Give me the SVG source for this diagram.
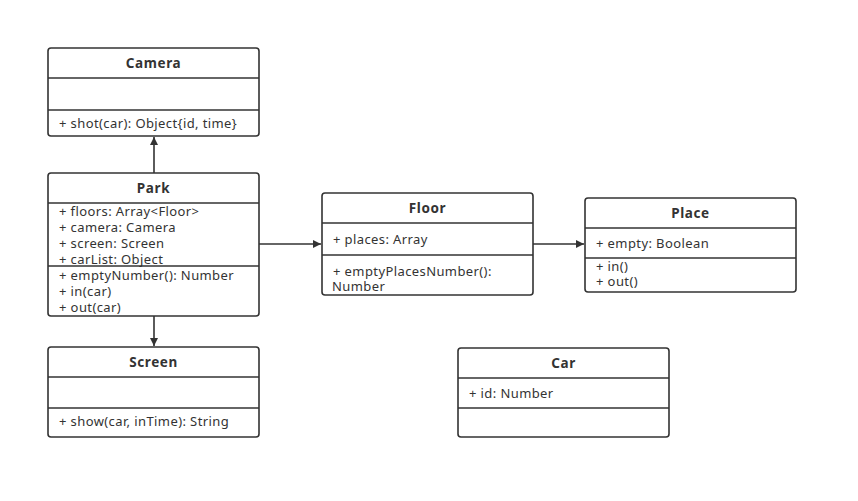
<svg xmlns="http://www.w3.org/2000/svg" width="858" height="501" viewBox="0 0 858 501">
<defs>
<marker id="arr" viewBox="0 0 10 10" refX="10" refY="5" markerWidth="8" markerHeight="8" markerUnits="userSpaceOnUse" orient="auto">
<path d="M0,0 L10,5 L0,10 Z" fill="#333"/>
</marker>
<style>
.box{fill:#fff;stroke:#333;stroke-width:1.6}
.div{stroke:#333;stroke-width:1.6}
.t{font-family:"Noto Sans","Open Sans",sans-serif;font-size:13px;letter-spacing:0.4px;fill:#333}
.h{font-family:"Noto Sans","Open Sans",sans-serif;font-size:13.5px;letter-spacing:0.6px;font-weight:bold;fill:#333;text-anchor:middle}
.c{stroke:#333;stroke-width:1.6;fill:none}
</style>
</defs>
<rect width="858" height="501" fill="#fff"/>
<g id="connectors">
<line class="c" x1="154" y1="173" x2="154" y2="137" marker-end="url(#arr)"/>
<line class="c" x1="154" y1="316" x2="154" y2="346" marker-end="url(#arr)"/>
<line class="c" x1="259" y1="244" x2="321" y2="244" marker-end="url(#arr)"/>
<line class="c" x1="533" y1="244" x2="584" y2="244" marker-end="url(#arr)"/>
</g>
<g id="camera">
<rect class="box" x="48" y="48" width="211" height="88" rx="3"/>
<line class="div" x1="48" y1="78" x2="259" y2="78"/>
<line class="div" x1="48" y1="110" x2="259" y2="110"/>
<text class="h" x="153.5" y="68">Camera</text>
<text class="t" x="59" y="128">+ shot(car): Object{id, time}</text>
</g>
<g id="park">
<rect class="box" x="48" y="173" width="211" height="143" rx="3"/>
<line class="div" x1="48" y1="203" x2="259" y2="203"/>
<line class="div" x1="48" y1="266" x2="259" y2="266"/>
<text class="h" x="153.5" y="193">Park</text>
<text class="t" x="59" y="216">+ floors: Array&lt;Floor&gt;</text>
<text class="t" x="59" y="232">+ camera: Camera</text>
<text class="t" x="59" y="248">+ screen: Screen</text>
<text class="t" x="59" y="264">+ carList: Object</text>
<text class="t" x="59" y="280">+ emptyNumber(): Number</text>
<text class="t" x="59" y="296">+ in(car)</text>
<text class="t" x="59" y="312">+ out(car)</text>
</g>
<g id="floor">
<rect class="box" x="322" y="193" width="211" height="102" rx="3"/>
<line class="div" x1="322" y1="223" x2="533" y2="223"/>
<line class="div" x1="322" y1="255" x2="533" y2="255"/>
<text class="h" x="427.5" y="213">Floor</text>
<text class="t" x="333" y="244">+ places: Array</text>
<text class="t" x="333" y="276">+ emptyPlacesNumber():</text>
<text class="t" x="332" y="291">Number</text>
</g>
<g id="place">
<rect class="box" x="585" y="198" width="211" height="94" rx="3"/>
<line class="div" x1="585" y1="228" x2="796" y2="228"/>
<line class="div" x1="585" y1="258" x2="796" y2="258"/>
<text class="h" x="690.5" y="218">Place</text>
<text class="t" x="596" y="248">+ empty: Boolean</text>
<text class="t" x="596" y="271">+ in()</text>
<text class="t" x="596" y="286">+ out()</text>
</g>
<g id="screen">
<rect class="box" x="48" y="347" width="211" height="90" rx="3"/>
<line class="div" x1="48" y1="377" x2="259" y2="377"/>
<line class="div" x1="48" y1="408" x2="259" y2="408"/>
<text class="h" x="153.5" y="367">Screen</text>
<text class="t" x="59" y="426">+ show(car, inTime): String</text>
</g>
<g id="car">
<rect class="box" x="458" y="348" width="211" height="89" rx="3"/>
<line class="div" x1="458" y1="378" x2="669" y2="378"/>
<line class="div" x1="458" y1="408" x2="669" y2="408"/>
<text class="h" x="563.5" y="368">Car</text>
<text class="t" x="469" y="398">+ id: Number</text>
</g>
</svg>
